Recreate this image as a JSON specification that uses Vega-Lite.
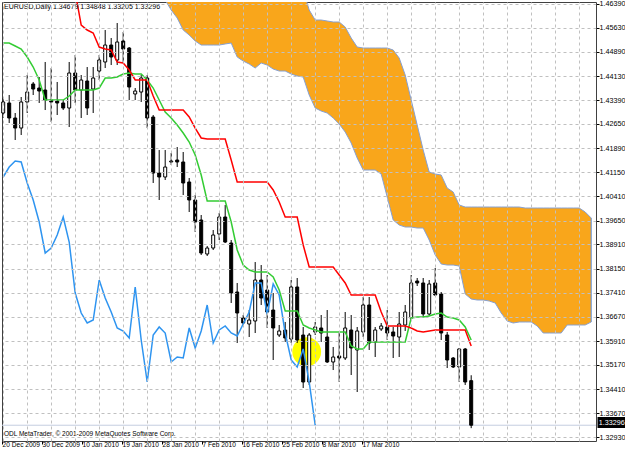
{
  "$schema": "https://vega.github.io/schema/vega-lite/v6.json",
  "width": 594,
  "height": 439,
  "autosize": "none",
  "padding": {"left": 2, "top": 2, "right": 29, "bottom": 10},
  "background": "#ffffff",
  "config": {
    "view": {"stroke": "#404040", "strokeWidth": 1},
    "font": "Liberation Sans",
    "axis": {"labelFont": "Liberation Sans"}
  },
  "resolve": {"axis": {"x": "independent"}},
  "data": {"values": [
    {"i":0,"o":1.4299,"h":1.43456,"l":1.42835,"c":1.43332,"tenkan":1.45164,"chikou":1.41003},
    {"i":1,"o":1.43301,"h":1.43549,"l":1.4268,"c":1.42835,"tenkan":1.45164,"chikou":1.41313},
    {"i":2,"o":1.42835,"h":1.4299,"l":1.42152,"c":1.42524,"tenkan":1.4507,"chikou":1.415},
    {"i":3,"o":1.42524,"h":1.43487,"l":1.42307,"c":1.43332,"tenkan":1.44977,"chikou":1.41469},
    {"i":4,"o":1.43332,"h":1.4417,"l":1.4299,"c":1.43642,"tenkan":1.44729,"chikou":1.40817},
    {"i":5,"o":1.43891,"h":1.43953,"l":1.43549,"c":1.43735,"tenkan":1.44418,"chikou":1.40289},
    {"i":6,"o":1.43766,"h":1.44108,"l":1.43301,"c":1.43673,"tenkan":1.44015,"chikou":1.39606},
    {"i":7,"o":1.43704,"h":1.44574,"l":1.43083,"c":1.43394,"tenkan":1.43394,"chikou":1.38643},
    {"i":8,"o":1.43394,"h":1.44387,"l":1.42711,"c":1.43332,"tenkan":1.43394,"chikou":1.38798},
    {"i":9,"o":1.43363,"h":1.43953,"l":1.42928,"c":1.43301,"tenkan":1.43394,"chikou":1.39202},
    {"i":10,"o":1.43301,"h":1.43394,"l":1.43083,"c":1.43145,"tenkan":1.43394,"chikou":1.39761},
    {"i":11,"o":1.43145,"h":1.44574,"l":1.42555,"c":1.44232,"tenkan":1.43518,"chikou":1.38984},
    {"i":12,"o":1.44232,"h":1.44791,"l":1.43301,"c":1.43704,"tenkan":1.43704,"kijun":1.46747,"chikou":1.37401},
    {"i":13,"o":1.43704,"h":1.4417,"l":1.42835,"c":1.44015,"tenkan":1.43704,"kijun":1.45722,"chikou":1.3678},
    {"i":14,"o":1.43984,"h":1.44418,"l":1.42928,"c":1.43145,"tenkan":1.43704,"kijun":1.45567,"chikou":1.3647},
    {"i":15,"o":1.43735,"h":1.44418,"l":1.4299,"c":1.44077,"tenkan":1.43704,"kijun":1.45474,"chikou":1.36563},
    {"i":16,"o":1.44294,"h":1.44791,"l":1.44015,"c":1.44636,"tenkan":1.43766,"kijun":1.45039,"chikou":1.37805},
    {"i":17,"o":1.44574,"h":1.45567,"l":1.44387,"c":1.45101,"tenkan":1.44077,"kijun":1.44977,"chikou":1.37246},
    {"i":18,"o":1.45101,"h":1.45319,"l":1.4448,"c":1.44729,"tenkan":1.44077,"kijun":1.44946,"chikou":1.36811},
    {"i":19,"o":1.44636,"h":1.45784,"l":1.4448,"c":1.45195,"tenkan":1.44108,"kijun":1.44574,"chikou":1.36315},
    {"i":20,"o":1.45226,"h":1.45505,"l":1.44543,"c":1.44977,"tenkan":1.44201,"kijun":1.44543,"chikou":1.36222},
    {"i":21,"o":1.45008,"h":1.45039,"l":1.43394,"c":1.43797,"tenkan":1.44232,"kijun":1.44325,"chikou":1.36004},
    {"i":22,"o":1.4358,"h":1.43766,"l":1.43394,"c":1.43673,"tenkan":1.44201,"kijun":1.44015,"chikou":1.37588},
    {"i":23,"o":1.43642,"h":1.4417,"l":1.43332,"c":1.44077,"tenkan":1.44201,"kijun":1.44015,"chikou":1.35942},
    {"i":24,"o":1.44077,"h":1.4417,"l":1.42524,"c":1.42835,"tenkan":1.44015,"kijun":1.44015,"chikou":1.34638},
    {"i":25,"o":1.42866,"h":1.42928,"l":1.40817,"c":1.41127,"tenkan":1.43766,"kijun":1.43518,"chikou":1.36097},
    {"i":26,"o":1.41127,"h":1.41841,"l":1.40289,"c":1.41003,"tenkan":1.43394,"kijun":1.43083,"chikou":1.36346,"spanA":1.46654,"spanB":1.46964},
    {"i":27,"o":1.41003,"h":1.41841,"l":1.4091,"c":1.41313,"tenkan":1.43021,"kijun":1.43083,"chikou":1.36159,"spanA":1.46499,"spanB":1.46964},
    {"i":28,"o":1.41469,"h":1.41748,"l":1.41376,"c":1.415,"tenkan":1.42835,"kijun":1.43083,"chikou":1.35259,"spanA":1.46188,"spanB":1.46964},
    {"i":29,"o":1.41531,"h":1.41934,"l":1.41313,"c":1.41469,"tenkan":1.42617,"kijun":1.43083,"chikou":1.35414,"spanA":1.4594,"spanB":1.46964},
    {"i":30,"o":1.41469,"h":1.41779,"l":1.40444,"c":1.40817,"tenkan":1.42369,"kijun":1.43083,"chikou":1.35383,"spanA":1.45567,"spanB":1.46964},
    {"i":31,"o":1.40848,"h":1.40972,"l":1.39916,"c":1.40289,"tenkan":1.4209,"kijun":1.42866,"chikou":1.36315,"spanA":1.45412,"spanB":1.46964},
    {"i":32,"o":1.40289,"h":1.40444,"l":1.39295,"c":1.39606,"tenkan":1.41686,"kijun":1.42524,"chikou":1.35694,"spanA":1.45226,"spanB":1.46964},
    {"i":33,"o":1.39668,"h":1.39823,"l":1.38581,"c":1.38643,"tenkan":1.41065,"kijun":1.42214,"chikou":1.36222,"spanA":1.45101,"spanB":1.46964},
    {"i":34,"o":1.38612,"h":1.3886,"l":1.3855,"c":1.38798,"tenkan":1.40258,"kijun":1.42183,"chikou":1.37029,"spanA":1.45101,"spanB":1.46964},
    {"i":35,"o":1.38798,"h":1.39357,"l":1.38736,"c":1.39202,"tenkan":1.40258,"kijun":1.42183,"chikou":1.35849,"spanA":1.45101,"spanB":1.46964},
    {"i":36,"o":1.39233,"h":1.39885,"l":1.39047,"c":1.39761,"tenkan":1.40258,"kijun":1.42183,"chikou":1.36253,"spanA":1.45101,"spanB":1.46964},
    {"i":37,"o":1.39761,"h":1.40134,"l":1.38953,"c":1.38984,"tenkan":1.40258,"kijun":1.42183,"chikou":1.36377,"spanA":1.45133,"spanB":1.46964},
    {"i":38,"o":1.38953,"h":1.39047,"l":1.37091,"c":1.37401,"tenkan":1.39606,"kijun":1.41531,"chikou":1.36159,"spanA":1.45164,"spanB":1.46964},
    {"i":39,"o":1.37432,"h":1.37712,"l":1.35849,"c":1.3678,"tenkan":1.38736,"kijun":1.40848,"chikou":1.36066,"spanA":1.44729,"spanB":1.46964},
    {"i":40,"o":1.36625,"h":1.36718,"l":1.36377,"c":1.3647,"tenkan":1.3827,"kijun":1.40848,"chikou":1.36439,"spanA":1.44605,"spanB":1.46964},
    {"i":41,"o":1.36439,"h":1.36873,"l":1.36035,"c":1.36563,"tenkan":1.38115,"kijun":1.40848,"chikou":1.36811,"spanA":1.44512,"spanB":1.46964},
    {"i":42,"o":1.36532,"h":1.38363,"l":1.36159,"c":1.37805,"tenkan":1.38053,"kijun":1.40848,"chikou":1.37712,"spanA":1.44387,"spanB":1.46964},
    {"i":43,"o":1.37805,"h":1.3827,"l":1.37029,"c":1.37246,"tenkan":1.38053,"kijun":1.40848,"chikou":1.37712,"spanA":1.44543,"spanB":1.46964},
    {"i":44,"o":1.37494,"h":1.3796,"l":1.36315,"c":1.36811,"tenkan":1.38053,"kijun":1.40848,"chikou":1.36749,"spanA":1.4448,"spanB":1.46964},
    {"i":45,"o":1.36873,"h":1.37401,"l":1.35321,"c":1.36315,"tenkan":1.37898,"kijun":1.40599,"chikou":1.37681,"spanA":1.44356,"spanB":1.46964},
    {"i":46,"o":1.36097,"h":1.36408,"l":1.36035,"c":1.36222,"tenkan":1.37494,"kijun":1.40227,"chikou":1.37339,"spanA":1.44294,"spanB":1.46964},
    {"i":47,"o":1.36253,"h":1.36501,"l":1.3588,"c":1.36004,"tenkan":1.36842,"kijun":1.39761,"chikou":1.36159,"spanA":1.44294,"spanB":1.46964},
    {"i":48,"o":1.35973,"h":1.37805,"l":1.35849,"c":1.37588,"tenkan":1.36842,"kijun":1.39761,"chikou":1.35321,"spanA":1.44201,"spanB":1.46964},
    {"i":49,"o":1.37588,"h":1.37867,"l":1.35849,"c":1.35942,"tenkan":1.36842,"kijun":1.39761,"chikou":1.35104,"spanA":1.44139,"spanB":1.46964},
    {"i":50,"o":1.36097,"h":1.36346,"l":1.34452,"c":1.34638,"tenkan":1.36408,"kijun":1.38891,"chikou":1.35663,"spanA":1.44108,"spanB":1.46809},
    {"i":51,"o":1.34638,"h":1.36159,"l":1.34545,"c":1.36097,"tenkan":1.36315,"kijun":1.38208,"chikou":1.34638,"spanA":1.43549,"spanB":1.46188},
    {"i":52,"o":1.36191,"h":1.36501,"l":1.36097,"c":1.36346,"tenkan":1.36253,"kijun":1.38208,"chikou":1.33296,"spanA":1.43145,"spanB":1.45878},
    {"i":53,"o":1.36315,"h":1.36718,"l":1.3588,"c":1.36159,"tenkan":1.36191,"kijun":1.38208,"spanA":1.43052,"spanB":1.45878},
    {"i":54,"o":1.36035,"h":1.36873,"l":1.35228,"c":1.35259,"tenkan":1.36191,"kijun":1.38208,"spanA":1.4299,"spanB":1.45847},
    {"i":55,"o":1.35259,"h":1.35725,"l":1.3501,"c":1.35414,"tenkan":1.36191,"kijun":1.38208,"spanA":1.42835,"spanB":1.45816},
    {"i":56,"o":1.35445,"h":1.36159,"l":1.34638,"c":1.35383,"tenkan":1.36191,"kijun":1.3796,"spanA":1.42649,"spanB":1.45816},
    {"i":57,"o":1.35383,"h":1.36811,"l":1.35321,"c":1.36315,"tenkan":1.36191,"kijun":1.37712,"spanA":1.424,"spanB":1.4566},
    {"i":58,"o":1.36253,"h":1.36718,"l":1.34855,"c":1.35694,"tenkan":1.35756,"kijun":1.37339,"spanA":1.42058,"spanB":1.45319},
    {"i":59,"o":1.35632,"h":1.36346,"l":1.34327,"c":1.36222,"tenkan":1.35663,"kijun":1.37339,"spanA":1.41593,"spanB":1.45039},
    {"i":60,"o":1.36191,"h":1.37277,"l":1.36035,"c":1.37029,"tenkan":1.35663,"kijun":1.37339,"spanA":1.4122,"spanB":1.45008},
    {"i":61,"o":1.37029,"h":1.37277,"l":1.35632,"c":1.35849,"tenkan":1.3588,"kijun":1.37339,"spanA":1.4122,"spanB":1.45008},
    {"i":62,"o":1.3588,"h":1.36346,"l":1.35414,"c":1.36253,"tenkan":1.3588,"kijun":1.37339,"spanA":1.4122,"spanB":1.45008},
    {"i":63,"o":1.36284,"h":1.3647,"l":1.36222,"c":1.36377,"tenkan":1.3588,"kijun":1.36811,"spanA":1.41096,"spanB":1.45008},
    {"i":64,"o":1.36346,"h":1.36873,"l":1.35942,"c":1.36159,"tenkan":1.3588,"kijun":1.36377,"spanA":1.40382,"spanB":1.45008},
    {"i":65,"o":1.36191,"h":1.36346,"l":1.35383,"c":1.36066,"tenkan":1.3588,"kijun":1.36377,"spanA":1.39668,"spanB":1.44946},
    {"i":66,"o":1.36035,"h":1.36811,"l":1.35414,"c":1.36439,"tenkan":1.3588,"kijun":1.36377,"spanA":1.39512,"spanB":1.44698},
    {"i":67,"o":1.36408,"h":1.37029,"l":1.36222,"c":1.36811,"tenkan":1.3588,"kijun":1.36377,"spanA":1.3945,"spanB":1.4417},
    {"i":68,"o":1.36625,"h":1.3796,"l":1.36563,"c":1.37712,"tenkan":1.36625,"kijun":1.36315,"spanA":1.3945,"spanB":1.43394},
    {"i":69,"o":1.37774,"h":1.37867,"l":1.37619,"c":1.37712,"tenkan":1.36656,"kijun":1.36222,"spanA":1.39419,"spanB":1.42617},
    {"i":70,"o":1.37712,"h":1.37867,"l":1.36656,"c":1.36749,"tenkan":1.36656,"kijun":1.36191,"spanA":1.39419,"spanB":1.41841},
    {"i":71,"o":1.36749,"h":1.37805,"l":1.36687,"c":1.37681,"tenkan":1.36687,"kijun":1.36222,"spanA":1.39047,"spanB":1.41158},
    {"i":72,"o":1.37712,"h":1.38177,"l":1.37308,"c":1.37339,"tenkan":1.36749,"kijun":1.36253,"spanA":1.38581,"spanB":1.41096},
    {"i":73,"o":1.3737,"h":1.37432,"l":1.35942,"c":1.36159,"tenkan":1.3678,"kijun":1.36253,"spanA":1.38301,"spanB":1.41065},
    {"i":74,"o":1.36097,"h":1.36191,"l":1.35072,"c":1.35321,"tenkan":1.36656,"kijun":1.36253,"spanA":1.3827,"spanB":1.40661},
    {"i":75,"o":1.35383,"h":1.35414,"l":1.35072,"c":1.35104,"tenkan":1.36625,"kijun":1.36253,"spanA":1.3827,"spanB":1.40537},
    {"i":76,"o":1.35104,"h":1.35694,"l":1.34638,"c":1.35663,"tenkan":1.36563,"kijun":1.36253,"spanA":1.38239,"spanB":1.40134},
    {"i":77,"o":1.35663,"h":1.35694,"l":1.34545,"c":1.34638,"tenkan":1.36346,"kijun":1.36253,"spanA":1.3737,"spanB":1.40071},
    {"i":78,"o":1.34679,"h":1.34848,"l":1.33205,"c":1.33296,"tenkan":1.35942,"kijun":1.35756,"spanA":1.37215,"spanB":1.40071},
    {"i":79,"spanA":1.37184,"spanB":1.40071},
    {"i":80,"spanA":1.37184,"spanB":1.40071},
    {"i":81,"spanA":1.37153,"spanB":1.40071},
    {"i":82,"spanA":1.37091,"spanB":1.40071},
    {"i":83,"spanA":1.3678,"spanB":1.40071},
    {"i":84,"spanA":1.36532,"spanB":1.40071},
    {"i":85,"spanA":1.3647,"spanB":1.40071},
    {"i":86,"spanA":1.36501,"spanB":1.40071},
    {"i":87,"spanA":1.36501,"spanB":1.4004},
    {"i":88,"spanA":1.36501,"spanB":1.4004},
    {"i":89,"spanA":1.36377,"spanB":1.4004},
    {"i":90,"spanA":1.36159,"spanB":1.4004},
    {"i":91,"spanA":1.36159,"spanB":1.4004},
    {"i":92,"spanA":1.36159,"spanB":1.4004},
    {"i":93,"spanA":1.36159,"spanB":1.4004},
    {"i":94,"spanA":1.36408,"spanB":1.4004},
    {"i":95,"spanA":1.36408,"spanB":1.4004},
    {"i":96,"spanA":1.36408,"spanB":1.4004},
    {"i":97,"spanA":1.36408,"spanB":1.39916},
    {"i":98,"spanA":1.36501,"spanB":1.3973}
  ]},
  "layer": [
    {
      "transform": [{"filter": "isValid(datum.spanA)"}],
      "mark": {"type": "area", "color": "#F9A61B", "clip": true},
      "encoding": {
        "x": {"field": "i", "type": "quantitative", "scale": {"domain": [-0.2, 98.8], "nice": false, "zero": false, "padding": 0},
          "axis": {"orient": "top", "values": [0,4,8,12,16,20,24,28,32,36,40,44,48,52,56,60,64,68,72,76,80,84,88,92,96], "tickCount": 40, "grid": true, "gridColor": "#c0c0c0", "gridDash": [3,3], "labels": false, "ticks": false, "domain": false, "title": null, "zindex": 1}},
        "y": {"field": "spanB", "type": "quantitative", "scale": {"domain": [1.32806, 1.46437], "nice": false, "zero": false, "padding": 0},
          "axis": {"orient": "right", "values": [1.4639,1.4563,1.4489,1.4413,1.4339,1.4265,1.4189,1.4115,1.4041,1.3965,1.3891,1.3815,1.3741,1.3667,1.3591,1.3517,1.3441,1.3367,1.3293], "tickCount": 40, "format": ".5f", "grid": true, "gridColor": "#c0c0c0", "gridDash": [3,3], "tickSize": 3, "tickColor": "#000000", "labelFontSize": 7.2, "labelColor": "#000000", "labelPadding": 0, "domain": false, "title": null, "zindex": 1, "labelFlush": false, "labelOverlap": false}},
        "y2": {"field": "spanA"}
      }
    },
    {
      "mark": {"type": "line", "color": "#86a0d2", "strokeWidth": 1, "clip": true},
      "encoding": {
        "x": {"field": "i", "type": "quantitative", "scale": {"domain": [-0.2, 98.8], "nice": false, "zero": false, "padding": 0}, "axis": null},
        "y": {"field": "spanA", "type": "quantitative", "scale": {"domain": [1.32806, 1.46437], "nice": false, "zero": false, "padding": 0}}
      }
    },
    {
      "mark": {"type": "line", "color": "#86a0d2", "strokeWidth": 1, "clip": true},
      "encoding": {
        "x": {"field": "i", "type": "quantitative", "scale": {"domain": [-0.2, 98.8], "nice": false, "zero": false, "padding": 0}, "axis": null},
        "y": {"field": "spanB", "type": "quantitative", "scale": {"domain": [1.32806, 1.46437], "nice": false, "zero": false, "padding": 0}}
      }
    },
    {
      "transform": [{"filter": "datum.i == 98"}],
      "mark": {"type": "rule", "color": "#5b8fe0", "strokeWidth": 1},
      "encoding": {
        "x": {"field": "i", "type": "quantitative", "scale": {"domain": [-0.2, 98.8], "nice": false, "zero": false, "padding": 0}, "axis": null},
        "y": {"field": "spanA", "type": "quantitative", "scale": {"domain": [1.32806, 1.46437], "nice": false, "zero": false, "padding": 0}},
        "y2": {"field": "spanB"}
      }
    },
    {
      "data": {"values": [{}]},
      "mark": {"type": "rule", "color": "#c4cde0", "strokeWidth": 1},
      "encoding": {
        "y": {"datum": 1.33296, "type": "quantitative", "scale": {"domain": [1.32806, 1.46437], "nice": false, "zero": false, "padding": 0}}
      }
    },
    {
      "data": {"values": [{}]},
      "mark": {"type": "point", "shape": "circle", "filled": true, "size": 830, "color": "#ffff00", "opacity": 1},
      "encoding": {
        "x": {"datum": 50.58, "type": "quantitative", "scale": {"domain": [-0.2, 98.8], "nice": false, "zero": false, "padding": 0}, "axis": null},
        "y": {"datum": 1.35578, "type": "quantitative", "scale": {"domain": [1.32806, 1.46437], "nice": false, "zero": false, "padding": 0}}
      }
    },
    {
      "transform": [{"filter": "isValid(datum.o)"}],
      "mark": {"type": "rule", "color": "#000000", "strokeWidth": 1},
      "encoding": {
        "x": {"field": "i", "type": "quantitative", "scale": {"domain": [-0.2, 98.8], "nice": false, "zero": false, "padding": 0},
          "axis": {"orient": "bottom", "values": [-0.19, 6.4667, 13.1333, 19.8, 26.4667, 33.1333, 39.8, 46.4667, 53.1333, 59.8], "tickCount": 40,
            "labelExpr": "['20 Dec 2009','30 Dec 2009','10 Jan 2010','19 Jan 2010','28 Jan 2010','7 Feb 2010','16 Feb 2010','25 Feb 2010','8 Mar 2010','17 Mar 2010'][round((datum.value + 0.2) * 6 / 40)]",
            "labelAlign": "left", "labelBaseline": "top", "labelDx": 1, "labelPadding": -3, "tickSize": 3, "tickColor": "#000000", "labelFontSize": 6.6, "labelColor": "#000000", "domain": false, "grid": false, "title": null, "labelFlush": false, "labelOverlap": false}},
        "y": {"field": "l", "type": "quantitative", "scale": {"domain": [1.32806, 1.46437], "nice": false, "zero": false, "padding": 0}},
        "y2": {"field": "h"}
      }
    },
    {
      "transform": [{"filter": "isValid(datum.o)"}],
      "mark": {"type": "bar", "size": 3, "stroke": "#000000", "strokeWidth": 1},
      "encoding": {
        "x": {"field": "i", "type": "quantitative", "scale": {"domain": [-0.2, 98.8], "nice": false, "zero": false, "padding": 0}, "axis": null},
        "y": {"field": "o", "type": "quantitative", "scale": {"domain": [1.32806, 1.46437], "nice": false, "zero": false, "padding": 0}},
        "y2": {"field": "c"},
        "fill": {"condition": {"test": "datum.c < datum.o", "value": "#000000"}, "value": "#ffffff"}
      }
    },
    {
      "transform": [{"filter": "isValid(datum.tenkan)"}],
      "mark": {"type": "line", "color": "#33cc33", "strokeWidth": 1.5, "clip": true},
      "encoding": {
        "x": {"field": "i", "type": "quantitative", "scale": {"domain": [-0.2, 98.8], "nice": false, "zero": false, "padding": 0}, "axis": null},
        "y": {"field": "tenkan", "type": "quantitative", "scale": {"domain": [1.32806, 1.46437], "nice": false, "zero": false, "padding": 0}}
      }
    },
    {
      "transform": [{"filter": "isValid(datum.kijun)"}],
      "mark": {"type": "line", "color": "#ff0000", "strokeWidth": 1.5, "clip": true},
      "encoding": {
        "x": {"field": "i", "type": "quantitative", "scale": {"domain": [-0.2, 98.8], "nice": false, "zero": false, "padding": 0}, "axis": null},
        "y": {"field": "kijun", "type": "quantitative", "scale": {"domain": [1.32806, 1.46437], "nice": false, "zero": false, "padding": 0}}
      }
    },
    {
      "transform": [{"filter": "isValid(datum.chikou)"}],
      "mark": {"type": "line", "color": "#2e94f0", "strokeWidth": 1.5, "clip": true},
      "encoding": {
        "x": {"field": "i", "type": "quantitative", "scale": {"domain": [-0.2, 98.8], "nice": false, "zero": false, "padding": 0}, "axis": null},
        "y": {"field": "chikou", "type": "quantitative", "scale": {"domain": [1.32806, 1.46437], "nice": false, "zero": false, "padding": 0}}
      }
    },
    {
      "data": {"values": [{}]},
      "mark": {"type": "rect", "color": "#000000", "clip": false},
      "encoding": {
        "x": {"datum": 99.05, "type": "quantitative", "scale": {"domain": [-0.2, 98.8], "nice": false, "zero": false, "padding": 0}, "axis": null},
        "x2": {"datum": 103.9},
        "y": {"datum": 1.33551, "type": "quantitative", "scale": {"domain": [1.32806, 1.46437], "nice": false, "zero": false, "padding": 0}},
        "y2": {"datum": 1.33209}
      }
    },
    {
      "data": {"values": [{"label": "1.33296"}]},
      "mark": {"type": "text", "align": "left", "baseline": "middle", "fontSize": 7.2, "color": "#ffffff", "clip": false},
      "encoding": {
        "x": {"datum": 99.25, "type": "quantitative", "scale": {"domain": [-0.2, 98.8], "nice": false, "zero": false, "padding": 0}, "axis": null},
        "y": {"datum": 1.3338, "type": "quantitative", "scale": {"domain": [1.32806, 1.46437], "nice": false, "zero": false, "padding": 0}},
        "text": {"field": "label"}
      }
    },
    {
      "data": {"values": [{"label": "EURUSD,Daily  1.34679 1.34848 1.33205 1.33296"}]},
      "mark": {"type": "text", "align": "left", "baseline": "middle", "fontSize": 7, "color": "#000000"},
      "encoding": {
        "x": {"datum": 0.13, "type": "quantitative", "scale": {"domain": [-0.2, 98.8], "nice": false, "zero": false, "padding": 0}, "axis": null},
        "y": {"datum": 1.46281, "type": "quantitative", "scale": {"domain": [1.32806, 1.46437], "nice": false, "zero": false, "padding": 0}},
        "text": {"field": "label"}
      }
    },
    {
      "data": {"values": [{"label": "ODL MetaTrader, © 2001-2009 MetaQuotes Software Corp."}]},
      "mark": {"type": "text", "align": "left", "baseline": "middle", "fontSize": 6.5, "color": "#000000"},
      "encoding": {
        "x": {"datum": 0.13, "type": "quantitative", "scale": {"domain": [-0.2, 98.8], "nice": false, "zero": false, "padding": 0}, "axis": null},
        "y": {"datum": 1.33038, "type": "quantitative", "scale": {"domain": [1.32806, 1.46437], "nice": false, "zero": false, "padding": 0}},
        "text": {"field": "label"}
      }
    }
  ]
}
